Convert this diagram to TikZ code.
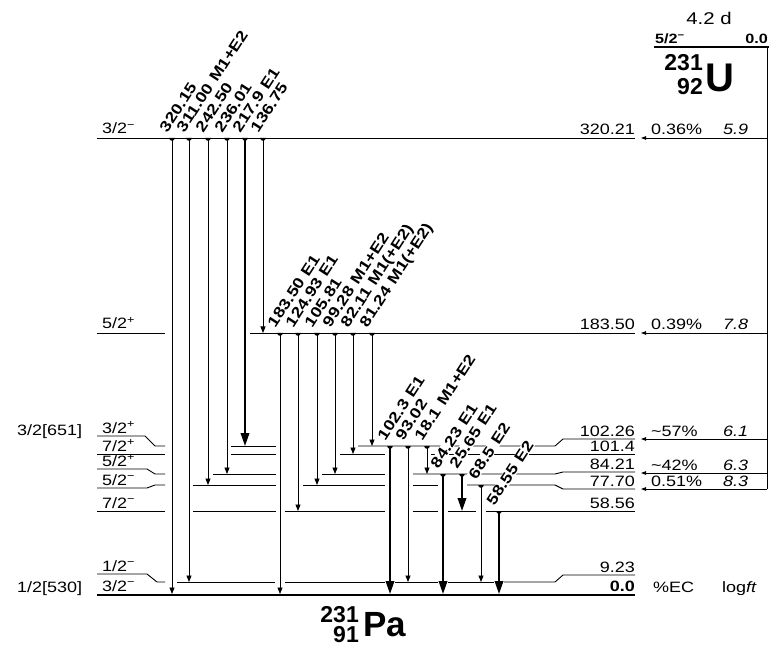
\documentclass[tikz,border=0pt]{standalone}
\usepackage{fontspec}
\setmainfont[FakeStretch=1.2]{Liberation Sans}
\newfontfamily\isofont{Liberation Sans}
\usetikzlibrary{arrows.meta}
\tikzset{
  lvl/.style={line width=0.9pt},
  gnd/.style={line width=2.4pt},
  thintr/.style={line width=0.8pt,-{Triangle[length=6.5pt,width=5pt]}},
  thicktr/.style={line width=2pt,-{Triangle[length=13pt,width=8.5pt]}},
  feed/.style={line width=0.8pt,-{Triangle[length=5pt,width=3.5pt]}},
  glab/.style={rotate=57,anchor=base west,font=\fontsize{15}{18}\selectfont\bfseries,fill=white,inner sep=0.6pt},
  lab/.style={font=\fontsize{15}{18}\selectfont,inner sep=0pt},
  labr/.style={lab,anchor=base east},
  labl/.style={lab,anchor=base west},
}
\newcommand\gdot[2]{\fill (#1-2.8,#2) arc[start angle=180,end angle=0,radius=2.8] -- cycle;}
\newcommand\supx[1]{\textsuperscript{#1}}
\begin{document}
\begin{tikzpicture}[x=1pt,y=-1pt]
\useasboundingbox (0,0) rectangle (769,647);
% ---------------- levels
\draw[lvl] (97,138) -- (635,138);
\draw[lvl] (97,333) -- (165,333);
\draw[lvl] (250,333) -- (635,333);
% 102.26
\draw[lvl] (97,436) -- (145,436) -- (155,446) -- (165,446);
\draw[lvl] (231,446) -- (276,446);
\draw[lvl] (358,446) -- (555,446) -- (563,439) -- (635,439);
% 101.4
\draw[lvl] (97,454) -- (165,454);
\draw[lvl] (231,454) -- (276,454);
\draw[lvl] (340,454) -- (385,454);
\draw[lvl] (431,454) -- (635,454);
% 84.21
\draw[lvl] (97,469) -- (147,469) -- (155,474) -- (165,474);
\draw[lvl] (213,474) -- (276,474);
\draw[lvl] (322,474) -- (385,474);
\draw[lvl] (413,474) -- (555,474) -- (563,472) -- (635,472);
% 77.70
\draw[lvl] (97,488) -- (147,488) -- (155,485) -- (165,485);
\draw[lvl] (193,485) -- (276,485);
\draw[lvl] (303,485) -- (385,485);
\draw[lvl] (413,485) -- (438,485);
\draw[lvl] (467,485) -- (555,485) -- (563,489) -- (635,489);
% 58.56
\draw[lvl] (97,511) -- (165,511);
\draw[lvl] (193,511) -- (276,511);
\draw[lvl] (285,511) -- (385,511);
\draw[lvl] (413,511) -- (438,511);
\draw[lvl] (448,511) -- (476,511);
\draw[lvl] (486,511) -- (635,511);
% 9.23
\draw[lvl] (97,574) -- (147,574) -- (157,582) -- (165,582);
\draw[lvl] (177,582) -- (275,582);
\draw[lvl] (285,582) -- (385,582);
\draw[lvl] (395,582) -- (438,582);
\draw[lvl] (448,582) -- (494,582);
\draw[lvl] (504,582) -- (555,582) -- (563,575) -- (635,575);
% ground
\draw[gnd] (97,595) -- (635,595);
% ---------------- gamma labels
\node[glab] (g1) at (167,134) {320.15};
\node[glab] (g2) at (184,134) {311.00\hspace{0.4em}M1+E2};
\node[glab] (g3) at (203,134) {242.50};
\node[glab] (g4) at (222,134) {236.01};
\node[glab] (g5) at (240,134) {217.9\hspace{0.4em}E1};
\node[glab] (g6) at (258,134) {136.75};
\node[glab] (g7) at (275,329) {183.50\hspace{0.4em}E1};
\node[glab] (g8) at (293,329) {124.93\hspace{0.4em}E1};
\node[glab] (g9) at (312,329) {105.81};
\node[glab] (g10) at (330,329) {99.28\hspace{0.4em}M1+E2};
\node[glab] (g11) at (348,329) {82.11\hspace{0.4em}M1(+E2)};
\node[glab] (g12) at (367,329) {81.24\hspace{0.4em}M1(+E2)};
\node[glab] (g13) at (385,442) {102.3\hspace{0.4em}E1};
\node[glab] (g14) at (403,442) {93.02};
\node[glab] (g15) at (422,442) {18.1\hspace{0.4em}M1+E2};
\node[glab] (g16) at (438,470) {84.23\hspace{0.4em}E1};
\node[glab] (g17) at (457,470) {25.65\hspace{0.4em}E1};
\node[glab] (g18) at (476,481) {68.5\hspace{0.4em}E2};
\node[glab] (g19) at (494,507) {58.55\hspace{0.4em}E2};
% ---------------- transitions
\draw[thintr] (172,138) -- (172,594);
\draw[thintr] (189,138) -- (189,582);
\draw[thintr] (208,138) -- (208,485);
\draw[thintr] (227,138) -- (227,474);
\draw[thicktr] (245,138) -- (245,446);
\draw[thintr] (263,138) -- (263,333);
\draw[thintr] (280,333) -- (280,594);
\draw[thintr] (298,333) -- (298,511);
\draw[thintr] (317,333) -- (317,485);
\draw[thintr] (335,333) -- (335,474);
\draw[thintr] (353,333) -- (353,454);
\draw[thintr] (372,333) -- (372,446);
\draw[thicktr] (390,446) -- (390,594);
\draw[thintr] (408,446) -- (408,582);
\draw[thintr] (427,446) -- (427,474);
\draw[thicktr] (443,474) -- (443,594);
\draw[thicktr] (462,474) -- (462,511);
\draw[thintr] (481,485) -- (481,582);
\draw[thicktr] (499,511) -- (499,594);
\foreach \x in {172,189,208,227,245,263} {\gdot{\x}{138}}
\foreach \x in {280,298,317,335,353,372} {\gdot{\x}{333}}
\foreach \x in {390,408,427} {\gdot{\x}{446}}
\gdot{443}{474}\gdot{462}{474}\gdot{481}{485}\gdot{499}{511}
% ---------------- parent
\draw[gnd] (654,47) -- (769,47);
\draw[lvl] (767,47) -- (767,489);
\draw[feed] (767,138) -- (641,138);
\draw[feed] (767,333) -- (641,333);
\draw[feed] (767,439) -- (641,439);
\draw[feed] (767,473) -- (641,473);
\draw[feed] (767,489) -- (641,489);
\node[lab,font=\fontsize{17}{20}\selectfont] (hl) at (709,18) {4.2 d};
\node[labl,font=\fontsize{13.5}{16}\selectfont\bfseries] (pj) at (655,44) {5/2\supx{−}};
\node[labr,font=\fontsize{13.5}{16}\selectfont\bfseries] (pe) at (768,44) {0.0};
\node[anchor=base east,inner sep=0pt,font=\isofont\bfseries\fontsize{23}{26}\selectfont] (ua) at (703,71) {231};
\node[anchor=base east,inner sep=0pt,font=\isofont\bfseries\fontsize{23}{26}\selectfont] (uz) at (703,95) {92};
\node[anchor=base west,inner sep=0pt,font=\isofont\bfseries\fontsize{40}{44}\selectfont] (us) at (705,92) {U};
\node[anchor=base east,inner sep=0pt,font=\isofont\bfseries\fontsize{23}{26}\selectfont] (pa) at (359,622) {231};
\node[anchor=base east,inner sep=0pt,font=\isofont\bfseries\fontsize{23}{26}\selectfont] (pz) at (359,642) {91};
\node[anchor=base west,inner sep=0pt,font=\isofont\bfseries\fontsize{35}{40}\selectfont] (ps) at (363,636) {Pa};
% ---------------- right labels
\node[labr] (e1) at (635,135) {320.21};
\node[labr] (e2) at (635,330) {183.50};
\node[labr] (e3) at (635,436) {102.26};
\node[labr] (e4) at (635,451) {101.4};
\node[labr] (e5) at (635,469) {84.21};
\node[labr] (e6) at (635,486) {77.70};
\node[labr] (e7) at (635,508) {58.56};
\node[labr] (e8) at (635,572) {9.23};
\node[labr,font=\fontsize{15}{18}\selectfont\bfseries] (e9) at (635,591) {0.0};
\node[labl] (p1) at (651,135) {0.36\%};
\node[labl] (p2) at (651,330) {0.39\%};
\node[labl] (p3) at (651,436) {\textasciitilde57\%};
\node[labl] (p4) at (651,470) {\textasciitilde42\%};
\node[labl] (p5) at (651,486) {0.51\%};
\node[labl] (f1) at (723,135) {\itshape 5.9};
\node[labl] (f2) at (723,330) {\itshape 7.8};
\node[labl] (f3) at (723,436) {\itshape 6.1};
\node[labl] (f4) at (723,470) {\itshape 6.3};
\node[labl] (f5) at (723,486) {\itshape 8.3};
\node[labl] (ec) at (653,592) {\%EC};
\node[labl] (lf) at (722,592) {log\textit{ft}};
% ---------------- left labels
\node[labl] (s1) at (102,134) {3/2\supx{−}};
\node[labl] (s2) at (102,329) {5/2\supx{+}};
\node[labl] (s3) at (102,433) {3/2\supx{+}};
\node[labl] (s4) at (102,451) {7/2\supx{+}};
\node[labl] (s5) at (102,466) {5/2\supx{+}};
\node[labl] (s6) at (102,485) {5/2\supx{−}};
\node[labl] (s7) at (102,508) {7/2\supx{−}};
\node[labl] (s8) at (102,571) {1/2\supx{−}};
\node[labl] (s9) at (102,591) {3/2\supx{−}};
\node[labl] (k1) at (17,435) {3/2[651]};
\node[labl] (k2) at (17,592) {1/2[530]};
\end{tikzpicture}
\end{document}
